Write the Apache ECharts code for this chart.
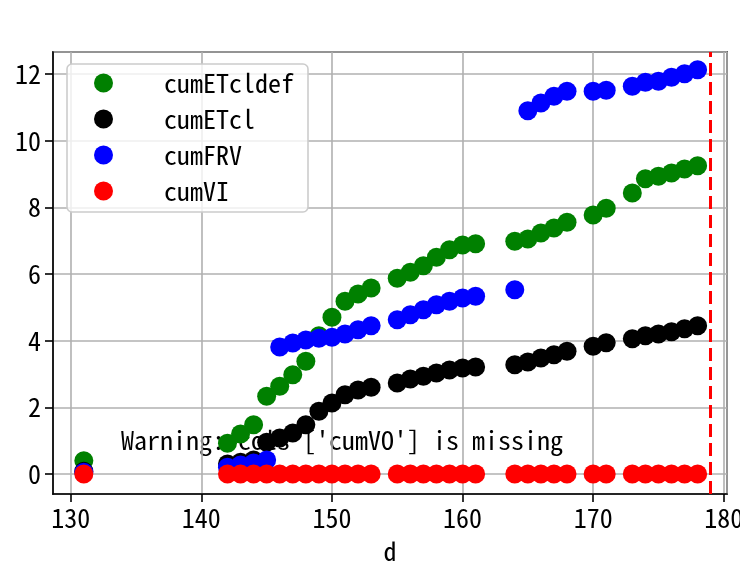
<!DOCTYPE html>
<html>
<head>
<meta charset="utf-8">
<script src="https://cdn.jsdelivr.net/npm/echarts@6/dist/echarts.min.js"></script>
<style>html,body{margin:0;padding:0;background:#fff}#c{width:740px;height:568px}</style>
</head>
<body>
<div id="c"></div>
<script>
const days = [131,142,143,144,145,146,147,148,149,150,151,152,153,155,156,157,158,159,160,161,164,165,166,167,168,170,171,173,174,175,176,177,178];
const cumETcldef = [0.40,0.92,1.20,1.48,2.33,2.63,2.98,3.38,4.15,4.70,5.18,5.40,5.58,5.87,6.05,6.25,6.50,6.73,6.87,6.91,6.98,7.05,7.23,7.38,7.55,7.77,7.97,8.43,8.86,8.93,9.03,9.15,9.25];
const cumETcl = [0.08,0.30,0.35,0.42,0.95,1.08,1.23,1.48,1.88,2.13,2.38,2.52,2.60,2.73,2.85,2.93,3.03,3.12,3.18,3.21,3.28,3.36,3.48,3.58,3.68,3.83,3.94,4.06,4.15,4.20,4.27,4.36,4.45];
const cumFRV = [0.05,0.20,0.27,0.33,0.42,3.81,3.93,4.02,4.07,4.10,4.20,4.33,4.45,4.63,4.78,4.93,5.08,5.18,5.28,5.33,5.53,10.90,11.13,11.33,11.48,11.48,11.51,11.63,11.75,11.78,11.90,12.01,12.13];
const cumVI = [0,0,0,0,0,0,0,0,0,0,0,0,0,0,0,0,0,0,0,0,0,0,0,0,0,0,0,0,0,0,0,0,0];
const seriesNames = ['cumETcldef','cumETcl','cumFRV','cumVI'];
const seriesColors = ['#008000','#000000','#0000ff','#ff0000'];
const seriesValues = [cumETcldef, cumETcl, cumFRV, cumVI];
const vlineX = 179;
const warningText = "Warning: cols ['cumVO'] is missing";
const xName = 'd';

const FONT = "'Noto Sans Mono CJK JP', 'Noto Sans CJK JP', monospace";
const FS = 26;

const chart = echarts.init(document.getElementById('c'), null, {renderer: 'canvas'});
const series = seriesNames.map((name, i) => ({
  name: name,
  type: 'scatter',
  symbol: 'circle',
  symbolSize: 19,
  itemStyle: {color: seriesColors[i], opacity: 1},
  data: days.map((d, j) => [d, seriesValues[i][j]]),
  z: 3 + i,
  animation: false
}));
series[3].markLine = {
  silent: true,
  symbol: ['none','none'],
  label: {show: false},
  lineStyle: {color: '#ff0000', type: [13, 6], width: 3},
  data: [{xAxis: vlineX}],
  animation: false
};

chart.setOption({
  animation: false,
  grid: {left: 53, right: 13, top: 52, bottom: 74, show: true, borderColor: '#000', borderWidth: 1.6,
    backgroundColor: 'transparent', containLabel: false, outerBoundsMode: 'none'},
  xAxis: {
    type: 'value', min: 128.64, max: 180.25,
    name: xName, nameLocation: 'middle', nameGap: 44,
    nameTextStyle: {fontFamily: FONT, fontSize: FS, color: '#000'},
    axisLine: {show: true, onZero: false, lineStyle: {color: '#000', width: 1.6}},
    axisTick: {show: true, length: 8, lineStyle: {color: '#000', width: 1.6}},
    axisLabel: {fontFamily: FONT, fontSize: FS, color: '#000', margin: 11, showMinLabel: false, showMaxLabel: false, hideOverlap: false,
      formatter: v => (Math.abs(v - Math.round(v)) < 1e-6 && Math.round(v) % 10 === 0) ? String(Math.round(v)) : ''},
    splitLine: {show: true, lineStyle: {color: '#b0b0b0', width: 1.6}}
  },
  yAxis: {
    type: 'value', min: -0.6, max: 12.66, splitNumber: 7,
    axisLine: {show: true, onZero: false, lineStyle: {color: '#000', width: 1.6}},
    axisTick: {show: true, length: 8, lineStyle: {color: '#000', width: 1.6}},
    axisLabel: {fontFamily: FONT, fontSize: FS, color: '#000', margin: 12, showMinLabel: false, showMaxLabel: false,
      formatter: v => (Math.abs(v - Math.round(v)) < 1e-6 && Math.round(v) % 2 === 0) ? String(Math.round(v)) : ''},
    splitLine: {show: true, lineStyle: {color: '#b0b0b0', width: 1.6}}
  },
  legend: {
    orient: 'vertical', left: 67, top: 64,
    data: seriesNames,
    icon: 'circle', itemWidth: 19, itemHeight: 19, itemGap: 10,
    padding: [6, 14, 8, 27],
    backgroundColor: 'rgba(255,255,255,0.8)',
    borderColor: '#cccccc', borderWidth: 1.6, borderRadius: 5,
    textStyle: {fontFamily: FONT, fontSize: FS, color: '#000', padding: [0, 0, 0, 46]},
    z: 10
  },
  graphic: [{
    type: 'text', left: 121, top: 427, z: 0,
    style: {text: warningText, font: FS + 'px ' + FONT, fill: '#000'}
  }],
  series: series
});
</script>
</body>
</html>
